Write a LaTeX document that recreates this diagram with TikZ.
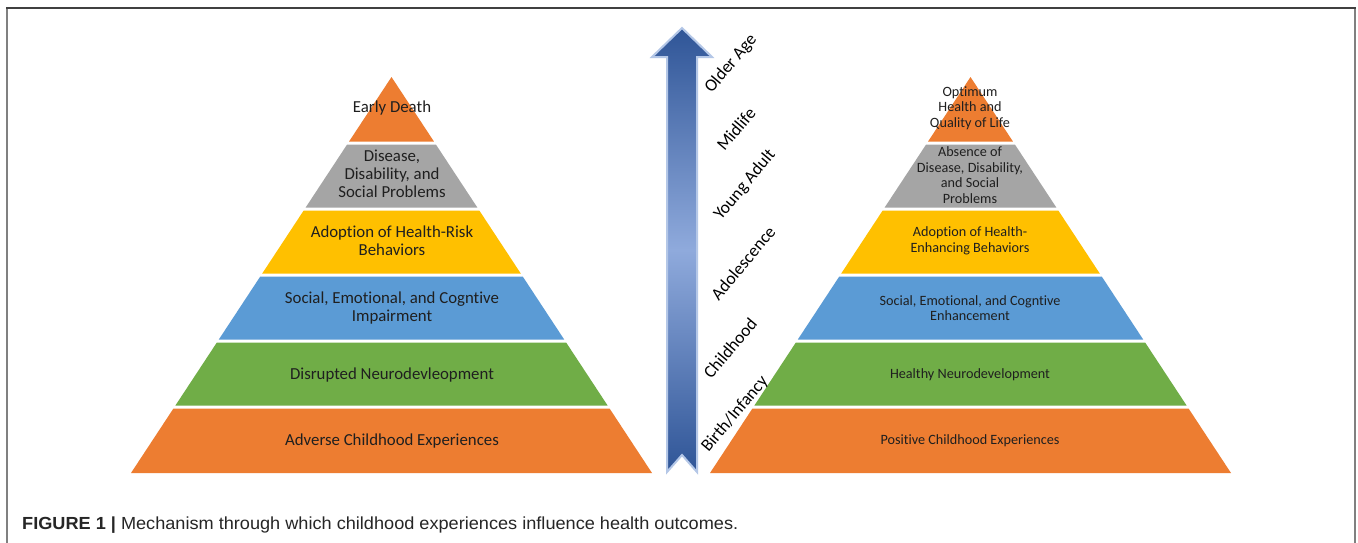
\documentclass[tikz,border=0pt]{standalone}
\usepackage{fontspec}
\setmainfont{Carlito}[Ligatures=NoCommon]
\newfontfamily\capfont{Liberation Sans}
\usetikzlibrary{calc}
\definecolor{porange}{HTML}{ED7D31}
\definecolor{pgray}{HTML}{A5A5A5}
\definecolor{pyellow}{HTML}{FFC000}
\definecolor{pblue}{HTML}{5B9BD5}
\definecolor{pgreen}{HTML}{70AD47}
\definecolor{adark}{HTML}{2F5597}
\definecolor{alight}{HTML}{8FAADC}
\definecolor{aedge}{HTML}{B4C7E7}
\definecolor{frametop}{HTML}{404040}
\definecolor{frameside}{HTML}{808080}
\newcommand{\pyrlayer}[3]{%
  \pgfmathsetmacro\ya{77+66*#2+((#2>0)?1.5:0)}%
  \pgfmathsetmacro\yb{77+66*(#2+1)-((#2<5)?1.5:0)}%
  \pgfmathsetmacro\wa{0.657828*(\ya-77)}%
  \pgfmathsetmacro\wb{0.657828*(\yb-77)}%
  \fill[#3] (#1-\wa,\ya) -- (#1+\wa,\ya) -- (#1+\wb,\yb) -- (#1-\wb,\yb) -- cycle;}
\begin{document}
\begin{tikzpicture}[x=1pt,y=-1pt,
  ltext/.style={align=center,inner sep=0pt,text=black!88,font=\fontsize{16.8}{18.2}\selectfont},
  rtext/.style={align=center,inner sep=0pt,text=black!88,font=\fontsize{14.2}{15.7}\selectfont},
  agetext/.style={rotate=50,inner sep=0pt,text=black,font=\fontsize{17.5}{19}\selectfont}]
\useasboundingbox (0,0) rectangle (1358,542);
\fill[white] (0,0) rectangle (1358,542);
% frame
\draw[frameside,line width=2pt] (7,543) -- (7,8);
\draw[frameside,line width=2pt] (1355,8) -- (1355,543);
\draw[frametop,line width=1.8pt] (6,8) -- (1356,8);
% left pyramid
\pyrlayer{391.5}{0}{porange}
\pyrlayer{391.5}{1}{pgray}
\pyrlayer{391.5}{2}{pyellow}
\pyrlayer{391.5}{3}{pblue}
\pyrlayer{391.5}{4}{pgreen}
\pyrlayer{391.5}{5}{porange}
% right pyramid
\pyrlayer{970.5}{0}{porange}
\pyrlayer{970.5}{1}{pgray}
\pyrlayer{970.5}{2}{pyellow}
\pyrlayer{970.5}{3}{pblue}
\pyrlayer{970.5}{4}{pgreen}
\pyrlayer{970.5}{5}{porange}
% left texts
\node[ltext] (L0) at (392,108) {Early Death};
\node[ltext] (L1) at (392,174) {Disease,\\Disability, and\\Social Problems};
\node[ltext] (L2) at (392,241) {Adoption of Health-Risk\\Behaviors};
\node[ltext] (L3) at (392,308) {Social, Emotional, and Cogntive\\Impairment};
\node[ltext] (L4) at (392,375) {Disrupted Neurodevleopment};
\node[ltext] (L5) at (392,441) {Adverse Childhood Experiences};
% right texts
\node[rtext] (R0) at (970,108) {Optimum\\Health and\\Quality of Life};
\node[rtext] (R1) at (970,175) {Absence of\\Disease, Disability,\\and Social\\Problems};
\node[rtext] (R2) at (970,241) {Adoption of Health-\\Enhancing Behaviors};
\node[rtext] (R3) at (970,308) {Social, Emotional, and Cogntive\\Enhancement};
\node[rtext] (R4) at (970,375) {Healthy Neurodevelopment};
\node[rtext] (R5) at (970,441) {Positive Childhood Experiences};
% arrow
\draw[aedge,line width=2pt,top color=adark,bottom color=adark,middle color=alight]
  (682,28) -- (712,57) -- (697,57) -- (697,472) -- (682,455) -- (667,472)
  -- (667,57) -- (652,57) -- cycle;
% age labels
\node[agetext] (A5) at (731,64) {Older Age};
\node[agetext] (A4) at (736,129) {Midlife};
\node[agetext] (A3) at (745,185) {Young Adult};
\node[agetext] (A2) at (743,263) {Adolescence};
\node[agetext] (A1) at (730,348) {Childhood};
\node[agetext] (A0) at (735,414) {Birth/Infancy};
% caption
\node[anchor=base west,inner sep=0pt,text=black!85] (cap) at (22,529)
  {\resizebox{716pt}{\height}{\capfont\fontsize{17.5}{19}\selectfont\textbf{FIGURE 1 {\textbar}} Mechanism through which childhood experiences influence health outcomes.}};
\end{tikzpicture}
\end{document}
